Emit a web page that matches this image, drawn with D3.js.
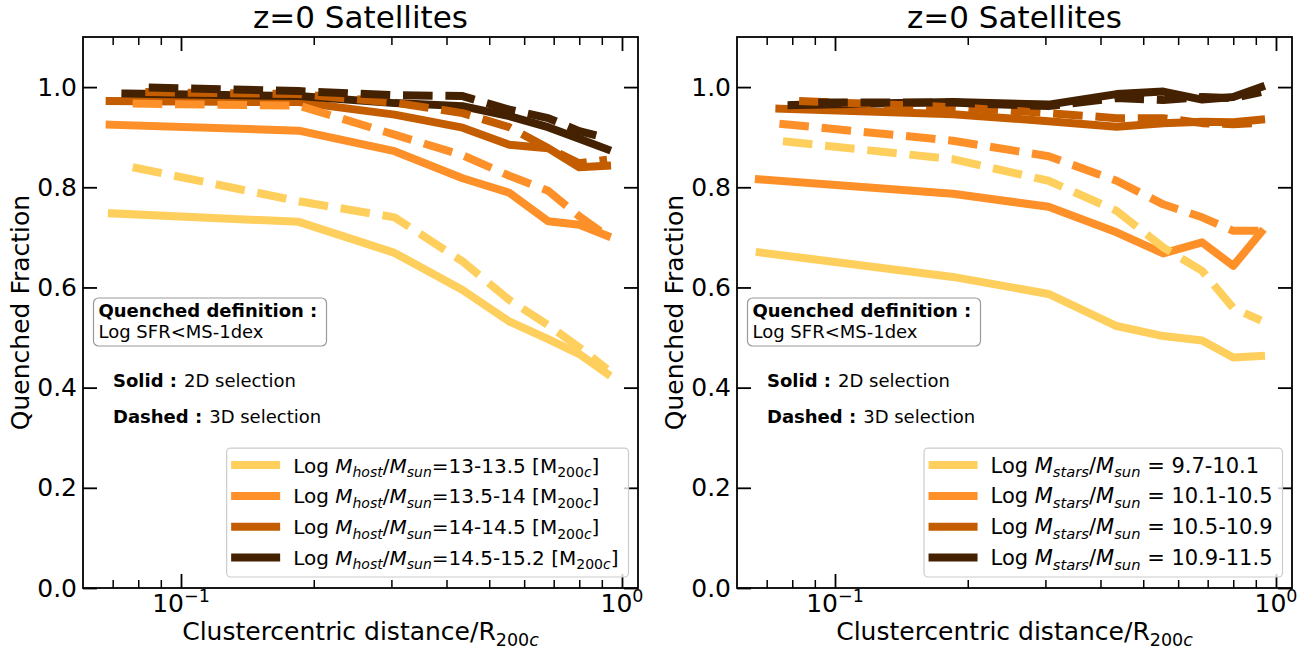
<!DOCTYPE html>
<html>
<head>
<meta charset="UTF-8">
<title>Quenched fraction of satellites</title>
<script src="https://cdnjs.cloudflare.com/ajax/libs/d3/7.8.5/d3.min.js"></script>
<style>
    body { margin: 0; background: #fff; }
    svg { font-family: "DejaVu Sans", sans-serif; }
</style>
</head>
<body>
<svg id="chart" width="1307" height="650"></svg>
<script>

    // ---- data ----
    var colors = ["#fecf5c", "#fe9029", "#c45c00", "#442100"];

    // radial bins (R/R200c) from the second bin on, shared by all curves
    var rBins = [0.185, 0.305, 0.435, 0.555, 0.68, 0.80, 0.925];

    // left panel: split by host mass
    var hostLabels = ["13-13.5", "13.5-14", "14-14.5", "14.5-15.2"];
    var hostR0Solid = [0.0697, 0.0689, 0.0689, 0.0748];
    var hostR0Dashed = [0.0777, 0.0777, 0.0830, 0.0845];
    var hostSolid = [
        [0.748, 0.731, 0.669, 0.595, 0.532, 0.497, 0.467, 0.428],
        [0.925, 0.913, 0.872, 0.818, 0.789, 0.732, 0.725, 0.703],
        [0.972, 0.970, 0.945, 0.919, 0.885, 0.878, 0.840, 0.843],
        [0.987, 0.982, 0.968, 0.962, 0.942, 0.920, 0.897, 0.876]
    ];
    var hostDashed = [
        [0.840, 0.772, 0.740, 0.652, 0.575, 0.525, 0.480, 0.437],
        [0.967, 0.963, 0.905, 0.864, 0.823, 0.793, 0.742, 0.703],
        [0.990, 0.986, 0.969, 0.948, 0.920, 0.878, 0.848, 0.855],
        [0.999, 0.992, 0.984, 0.982, 0.955, 0.938, 0.912, 0.898]
    ];

    // right panel: split by stellar mass
    var starLabels = ["9.7-10.1", "10.1-10.5", "10.5-10.9", "10.9-11.5"];
    var starR0Solid = [0.0675, 0.0672, 0.0748, 0.0797];
    var starR0Dashed = [0.0762, 0.0748, 0.0829, 0.0916];
    var starSolid = [
        [0.670, 0.621, 0.587, 0.523, 0.503, 0.494, 0.460, 0.463],
        [0.816, 0.787, 0.761, 0.710, 0.668, 0.690, 0.643, 0.710],
        [0.957, 0.946, 0.932, 0.921, 0.928, 0.931, 0.930, 0.935],
        [0.964, 0.970, 0.965, 0.986, 0.991, 0.975, 0.980, 1.000]
    ];
    var starDashed = [
        [0.892, 0.856, 0.813, 0.753, 0.680, 0.633, 0.559, 0.534],
        [0.927, 0.893, 0.862, 0.813, 0.766, 0.740, 0.713, 0.713],
        [0.972, 0.960, 0.948, 0.938, 0.938, 0.928, 0.926, 0.929],
        [0.969, 0.969, 0.962, 0.978, 0.974, 0.980, 0.978, 0.990]
    ];

    var yTicks = [0, 0.2, 0.4, 0.6, 0.8, 1.0];
    var xMajor = [0.1, 1];
    var xMinor = [0.07, 0.08, 0.09, 0.2, 0.3, 0.4, 0.5, 0.6, 0.7, 0.8, 0.9];
    var xMajorLabels = ["\u22121", "0"];

    // ---- helpers ----
    // parts: [text, style]; style n normal, i italic, B bold, s sub, si sub italic, u sup
    function richText(g, x, y, parts, size, anchor) {
        var t = g.append("text")
            .attr("x", x).attr("y", y)
            .attr("font-size", size)
            .style("white-space", "pre");
        if (anchor) t.attr("text-anchor", anchor);
        var cur = 0;
        parts.forEach(function (p) {
            var st = p[1] || "n";
            var shift = 0, fs = size;
            if (st.charAt(0) == "s") { shift = 0.22 * size; fs = 0.7 * size; }
            if (st == "u") { shift = -0.42 * size; fs = 0.7 * size; }
            var ts = t.append("tspan")
                .attr("dy", shift - cur)
                .attr("font-size", fs)
                .text(p[0]);
            if (st.indexOf("i") >= 0) ts.attr("font-style", "italic");
            if (st == "B") ts.attr("font-weight", "bold");
            if (p[2]) ts.attr("dx", p[2]);
            cur = shift;
        });
        return t;
    }

    var svg = d3.select("#chart");
    var top_ = 37, bottom_ = 588, W = 555;

    function drawPanel(L, r0Solid, r0Dashed, solid, dashed, legendParts, legendSize) {

        var x = d3.scaleLog().domain([0.05995, 1.0872]).range([L, L + W]);
        var y = d3.scaleLinear().domain([0, 1.1]).range([bottom_, top_]);
        var g = svg.append("g");

        var line = d3.line()
            .x(function (d) { return x(d[0]) })
            .y(function (d) { return y(d[1]) });

        function pts(r0, vals) {
            var rs = [r0].concat(rBins);
            return vals.map(function (v, i) { return [rs[i], v] });
        }

        // solid curves first, then dashed ones on top
        solid.forEach(function (vals, i) {
            g.append("path")
                .datum(pts(r0Solid[i], vals))
                .attr("fill", "none")
                .attr("stroke", colors[i])
                .attr("stroke-width", 8)
                .attr("stroke-linejoin", "round")
                .attr("stroke-linecap", "square")
                .attr("d", line);
        });
        dashed.forEach(function (vals, i) {
            g.append("path")
                .datum(pts(r0Dashed[i], vals))
                .attr("fill", "none")
                .attr("stroke", colors[i])
                .attr("stroke-width", 8)
                .attr("stroke-linejoin", "round")
                .attr("stroke-linecap", "butt")
                .attr("stroke-dasharray", "29.6,12.8")
                .attr("d", line);
        });

        // axes, ticks pointing inwards on all four sides
        g.append("g")
            .attr("transform", "translate(" + L + ",0)")
            .call(d3.axisLeft(y).tickValues(yTicks).tickSizeInner(-14).tickSizeOuter(0)
                .tickPadding(6).tickFormat(d3.format(".1f")))
            .call(function (a) {
                a.select(".domain").remove();
                a.selectAll("text").attr("font-size", 25).attr("font-family", "DejaVu Sans").attr("fill", "#000");
                a.selectAll("line").attr("stroke-width", 1.8);
            });
        g.append("g")
            .attr("transform", "translate(" + (L + W) + ",0)")
            .call(d3.axisRight(y).tickValues(yTicks).tickSizeInner(-14).tickSizeOuter(0).tickFormat(""))
            .call(function (a) { a.select(".domain").remove(); a.selectAll("line").attr("stroke-width", 1.8); });

        [[bottom_, d3.axisBottom], [top_, d3.axisTop]].forEach(function (s) {
            g.append("g")
                .attr("transform", "translate(0," + s[0] + ")")
                .call(s[1](x).tickValues(xMajor).tickSizeInner(-14).tickSizeOuter(0).tickFormat(""))
                .call(function (a) { a.select(".domain").remove(); a.selectAll("line").attr("stroke-width", 1.8); });
            g.append("g")
                .attr("transform", "translate(0," + s[0] + ")")
                .call(s[1](x).tickValues(xMinor).tickSizeInner(-8).tickSizeOuter(0).tickFormat(""))
                .call(function (a) { a.select(".domain").remove(); a.selectAll("line").attr("stroke-width", 1.5); });
        });

        xMajor.forEach(function (v, i) {
            richText(g, x(v), 612, [["10", "n"], [xMajorLabels[i], "u"]], 25, "middle");
        });

        g.append("rect")
            .attr("x", L).attr("y", top_)
            .attr("width", W).attr("height", bottom_ - top_)
            .attr("fill", "none").attr("stroke", "#000").attr("stroke-width", 1.8);

        // titles
        g.append("text")
            .attr("x", L + W / 2).attr("y", 28)
            .attr("text-anchor", "middle").attr("font-size", 31)
            .text("z=0 Satellites");
        richText(g, L + W / 2, 640,
            [["Clustercentric distance/R", "n"], ["200", "s"], ["c", "si"]], 25, "middle");
        g.append("text")
            .attr("transform", "translate(" + (L - 63) + "," + ((top_ + bottom_) / 2) + ") rotate(-90)")
            .attr("text-anchor", "middle").attr("dominant-baseline", "central")
            .attr("font-size", 25)
            .text("Quenched Fraction");

        // quenched definition box
        g.append("rect")
            .attr("x", L + 10.5).attr("y", 298)
            .attr("width", 233).attr("height", 48)
            .attr("rx", 5)
            .attr("fill", "#fff").attr("stroke", "#999").attr("stroke-width", 1.2);
        richText(g, L + 15.5, 317, [["Quenched definition :", "B"]], 18);
        richText(g, L + 15.5, 338, [["Log SFR<MS-1dex", "n"]], 18);

        richText(g, L + 30, 387, [["Solid :", "B"], ["2D selection", "n", 7]], 18);
        richText(g, L + 30, 422.5, [["Dashed :", "B"], ["3D selection", "n", 7]], 18);

        // legend
        var lg = g.append("g");
        var box = lg.append("rect");
        var rowGap = 30.8, lastRow = bottom_ - 30.5;
        var texts = [];
        legendParts.forEach(function (parts, i) {
            var ry = lastRow - (3 - i) * rowGap;
            lg.append("line")
                .attr("class", "handle")
                .attr("y1", ry).attr("y2", ry)
                .attr("stroke", colors[i]).attr("stroke-width", 8);
            texts.push(richText(lg, 0, ry + 7.5, parts, legendSize));
        });
        var maxW = d3.max(texts, function (t) { return t.node().getComputedTextLength() });
        var right = L + W - 9.5;
        var tx = right - 10 - maxW;
        var hx = tx - 13 - 49;
        var bx = hx - 4.5;
        texts.forEach(function (t) { t.attr("x", tx); });
        lg.selectAll("line.handle").attr("x1", hx).attr("x2", hx + 49);
        var by = lastRow - 3 * rowGap - 17;
        box.attr("x", bx).attr("y", by)
            .attr("width", right - bx).attr("height", bottom_ - 11 - by)
            .attr("rx", 4)
            .attr("fill", "#fff").attr("fill-opacity", 0.8)
            .attr("stroke", "#cccccc").attr("stroke-width", 1.2);
    }

    var hostParts = hostLabels.map(function (lab) {
        return [["Log ", "n"], ["M", "i"], ["host", "si"], ["/", "n"], ["M", "i"], ["sun", "si"],
            ["=" + lab + " [M", "n"], ["200", "s"], ["c", "si"], ["]", "n"]];
    });
    var starParts = starLabels.map(function (lab) {
        return [["Log ", "n"], ["M", "i"], ["stars", "si"], ["/", "n"], ["M", "i"], ["sun", "si"],
            [" = " + lab, "n"]];
    });

    drawPanel(83, hostR0Solid, hostR0Dashed, hostSolid, hostDashed, hostParts, 20);
    drawPanel(737, starR0Solid, starR0Dashed, starSolid, starDashed, starParts, 21);

</script>
</body>
</html>
